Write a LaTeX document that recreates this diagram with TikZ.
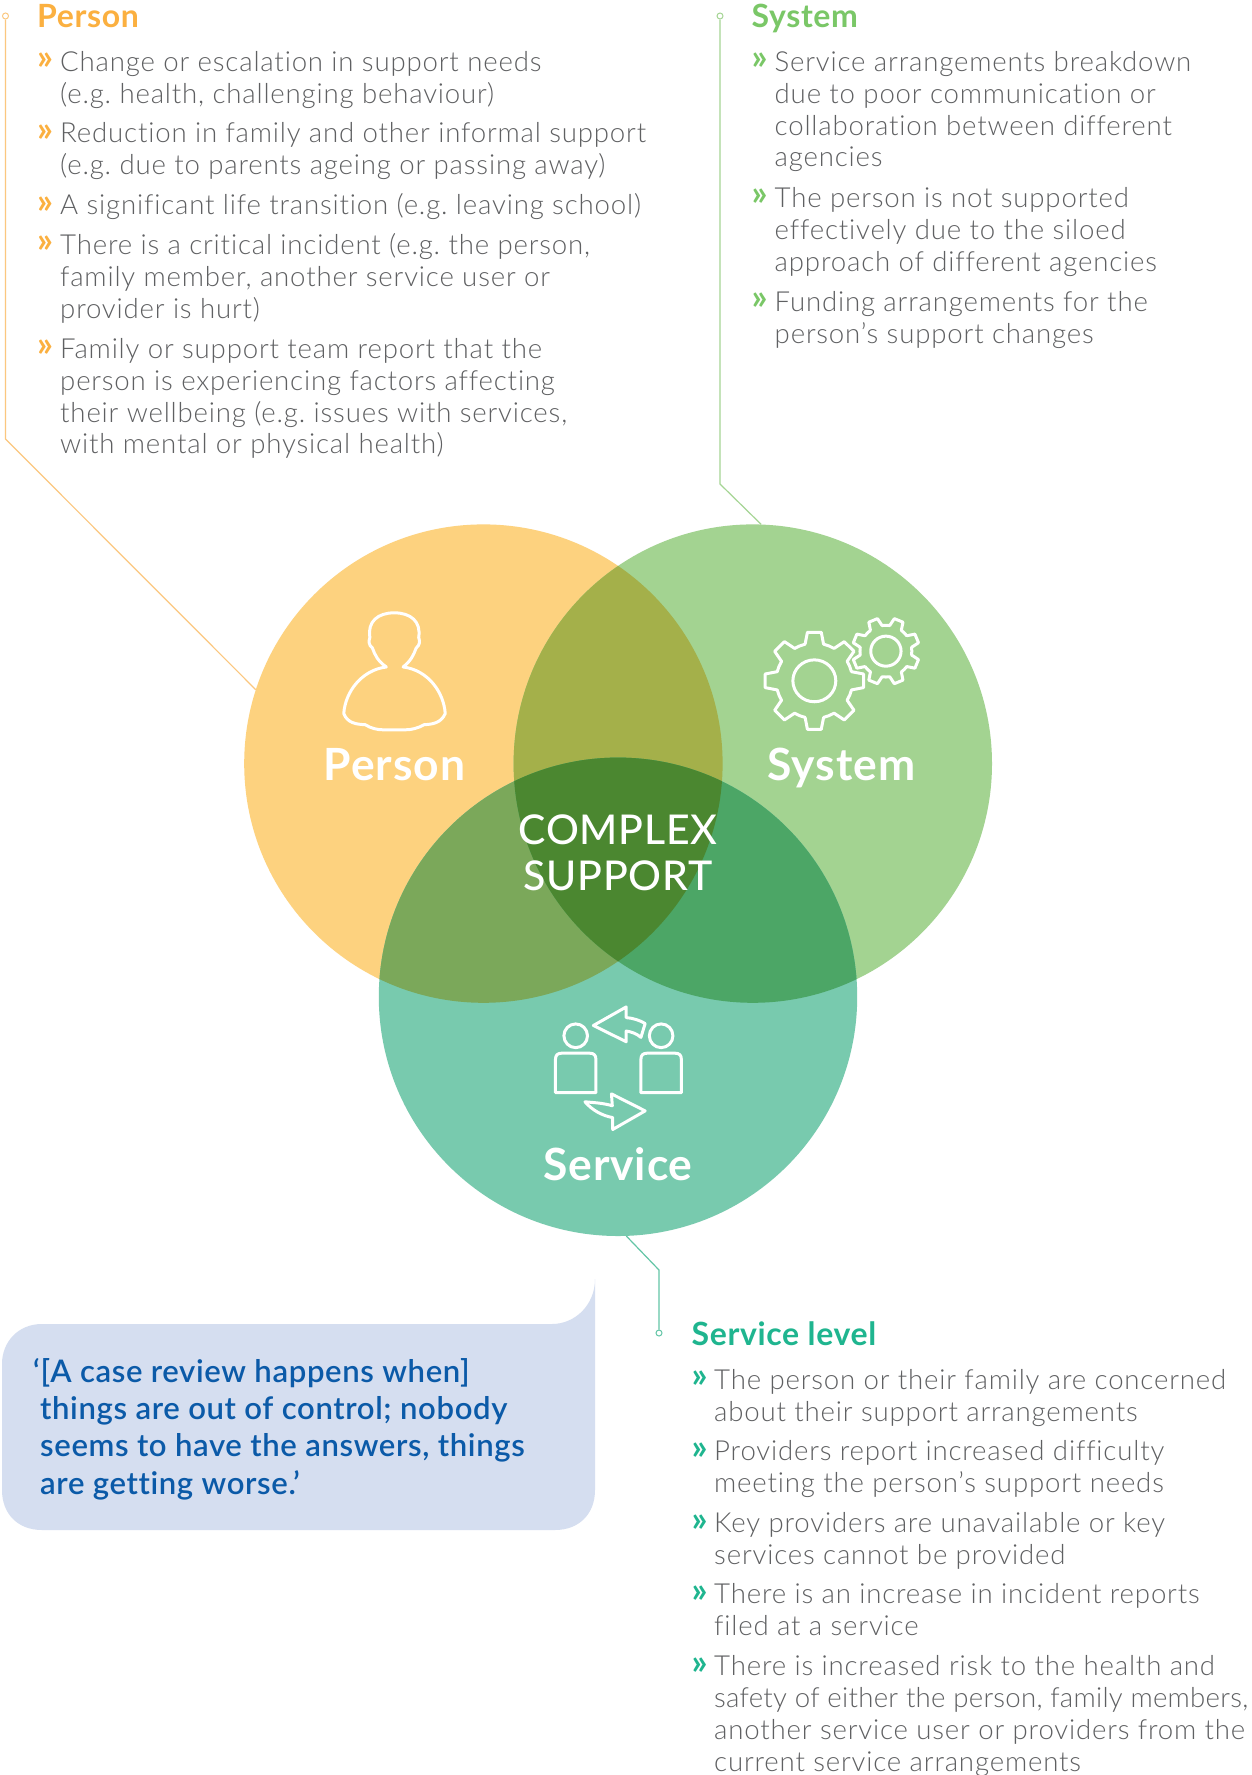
\documentclass[tikz,border=0pt]{standalone}
\usepackage{fontspec}
\setmainfont{Lato}[UprightFont=* Light,BoldFont=* Bold,LetterSpace=3,Ligatures=NoCommon]
\newfontfamily\headf{Lato}[UprightFont=* Bold,BoldFont=* Bold,LetterSpace=2,Ligatures=NoCommon]
\newfontfamily\medf{Lato}[UprightFont=* Medium,BoldFont=* Bold,LetterSpace=2,Ligatures=NoCommon]
\newfontfamily\semif{Lato}[UprightFont=* Semibold,BoldFont=* Bold,LetterSpace=2,Ligatures=NoCommon]
\definecolor{txtgrey}{HTML}{5F6062}
\definecolor{porange}{HTML}{FDD27F}
\definecolor{psys}{HTML}{A3D391}
\definecolor{pserv}{HTML}{78CAAE}
\definecolor{ovps}{HTML}{A4B04A}
\definecolor{ovpv}{HTML}{7BA85A}
\definecolor{ovsv}{HTML}{4CA666}
\definecolor{ovall}{HTML}{4B8730}
\definecolor{horange}{HTML}{FBB040}
\definecolor{hgreen}{HTML}{7AC767}
\definecolor{hteal}{HTML}{1FB58F}
\definecolor{lorange}{HTML}{FBC77F}
\definecolor{lgreen}{HTML}{A5D594}
\definecolor{lteal}{HTML}{63C5A6}
\definecolor{quotebg}{HTML}{D5DEF0}
\definecolor{quotetx}{HTML}{0B5AA8}
\tikzset{
  x=1pt,y=-1pt,
  itemtxt/.style={anchor=north west,inner sep=0pt,align=left,text=txtgrey,font=\frenchspacing\fontsize{27.6}{31.8}\selectfont},
  heading/.style={anchor=base west,inner sep=0pt,font=\headf\fontsize{32}{36}\selectfont},
  bul/.style={anchor=west,inner sep=0pt,font=\headf\fontsize{35}{36}\selectfont},
  quotetxt/.style={anchor=north west,inner sep=0pt,align=left,text=quotetx,font=\semif\fontsize{31.1}{37.3}\selectfont},
  blobc/.style={circle,inner sep=0pt,minimum size=478.4pt,draw=none},
  biglab/.style={anchor=base,inner sep=0pt,text=white,font=\headf\fontsize{44.4}{46}\selectfont},
  midlab/.style={inner sep=0pt,text=white,align=center,font=\medf\fontsize{41}{45.5}\selectfont},
  ring/.style={circle,inner sep=0pt,minimum size=6pt,fill=white,line width=1pt},
  conn/.style={line width=1.2pt},
  icon/.style={draw=white,line width=3pt,line join=round,line cap=round},
}
% name, bullet x, text x, first-line baseline y, colour, text
\newcommand{\bitem}[6]{%
  \node[bul,text=#5] (b#1) at (#2,#4-8.5) {»};
  \node[itemtxt] (t#1) at (#3,#4-21) {\strut #6};
}
\newcommand{\gearpath}{%
  (-14:.77) \foreach \a in {0,45,...,315} {
    -- (\a-14:.77) -- (\a-8:1) -- (\a+8:1) -- (\a+14:.77)
    arc[start angle=\a+14,end angle=\a+31,radius=.77]
  } -- cycle}
\begin{document}
\begin{tikzpicture}
\useasboundingbox (0,0) rectangle (1251,1775);
\fill[white] (0,0) rectangle (1251,1775);
% circles
\node[blobc,fill=porange] (person) at (483.4,763.6) {};
\node[blobc,fill=psys] (system) at (752.8,763.6) {};
\node[blobc,fill=pserv] (service) at (618,996.8) {};
\begin{scope}
  \clip (483.4,763.6) circle[radius=239.2];
  \fill[ovps] (752.8,763.6) circle[radius=239.2];
  \fill[ovpv] (618,996.8) circle[radius=239.2];
\end{scope}
\begin{scope}
  \clip (752.8,763.6) circle[radius=239.2];
  \fill[ovsv] (618,996.8) circle[radius=239.2];
  \clip (618,996.8) circle[radius=239.2];
  \fill[ovall] (483.4,763.6) circle[radius=239.2];
\end{scope}
% connectors
\node[ring,draw=lorange] (dp) at (5.5,16) {};
\coordinate (kp) at (5.5,439);
\draw[conn,lorange] (dp) -- (kp) -- (person.162.3);
\node[ring,draw=lgreen] (ds) at (720,16) {};
\coordinate (ks) at (720,484);
\draw[conn,lgreen] (ds) -- (ks) -- (system.88.7);
\node[ring,draw=lteal] (dv) at (659,1333) {};
\coordinate (kv) at (659,1270);
\draw[conn,lteal] (service.272.5) -- (kv) -- (dv);
% person block
\node[heading,text=horange] (hp) at (37,27.5) {Person};
\bitem{p1}{37}{60}{70}{horange}{Change or escalation in support needs\\(e.g. health, challenging behaviour)}
\bitem{p2}{37}{60}{141.5}{horange}{Reduction in family and other informal support\\(e.g. due to parents ageing or passing away)}
\bitem{p3}{37}{60}{213.5}{horange}{A significant life transition (e.g. leaving school)}
\bitem{p4}{37}{60}{253}{horange}{There is a critical incident (e.g. the person,\\family member, another service user or\\provider is hurt)}
\bitem{p5}{37}{60}{357}{horange}{Family or support team report that the\\person is experiencing factors affecting\\their wellbeing (e.g. issues with services,\\with mental or physical health)}
% system block
\node[heading,text=hgreen] (hs) at (751.5,27.5) {System};
\bitem{s1}{751.5}{774.5}{70}{hgreen}{Service arrangements breakdown\\due to poor communication or\\collaboration between different\\agencies}
\bitem{s2}{751.5}{774.5}{206}{hgreen}{The person is not supported\\effectively due to the siloed\\approach of different agencies}
\bitem{s3}{751.5}{774.5}{310}{hgreen}{Funding arrangements for the\\person’s support changes}
% service block
\node[heading,text=hteal] (hv) at (691.5,1345) {Service level};
\bitem{v1}{691.5}{714}{1388}{hteal}{The person or their family are concerned\\about their support arrangements}
\bitem{v2}{691.5}{714}{1459.5}{hteal}{Providers report increased difficulty\\meeting the person’s support needs}
\bitem{v3}{691.5}{714}{1531.5}{hteal}{Key providers are unavailable or key\\services cannot be provided}
\bitem{v4}{691.5}{714}{1602.5}{hteal}{There is an increase in incident reports\\filed at a service}
\bitem{v5}{691.5}{714}{1674.5}{hteal}{There is increased risk to the health and\\{\addfontfeature{LetterSpace=1.0}safety of either the person, family members,}\\another service user or providers from the\\current service arrangements}
% labels
\node[biglab] (lp) at (394.5,780) {Person};
\node[biglab] (ls) at (841.5,780) {System};
\node[biglab] (lv) at (618,1180) {Service};
\node[midlab] (lc) at (618,853) {COMPLEX\\SUPPORT};
% person icon (coordinates measured in a crop of the figure)
\begin{scope}[shift={(300,580)},xscale=0.4209,yscale=0.3953]
  \draw[icon] (205,220) .. controls (185,205) and (178,190) .. (172,172)
    .. controls (163,165) and (163,155) .. (166,145)
    .. controls (160,105) and (185,83) .. (224,83)
    .. controls (263,83) and (288,105) .. (282,145)
    .. controls (285,155) and (285,165) .. (276,172)
    .. controls (270,190) and (263,205) .. (245,220)
    .. controls (305,228) and (342,285) .. (345,338)
    .. controls (335,362) and (315,365) .. (295,366)
    .. controls (280,375) and (265,379) .. (250,379)
    -- (198,379)
    .. controls (183,379) and (168,375) .. (155,366)
    .. controls (133,365) and (113,362) .. (104,338)
    .. controls (107,285) and (145,228) .. (205,220) -- cycle;
  % gears
  \begin{scope}[shift={(1222,255)},xscale=118,yscale=124]
    \draw[icon,line width=3pt] \gearpath;
  \end{scope}
  \draw[icon] (1222,255) ellipse[x radius=51,y radius=53];
  \begin{scope}[shift={(1392,180)},xscale=80,yscale=85,rotate=22.5]
    \draw[icon] \gearpath;
  \end{scope}
  \draw[icon] (1392,180) ellipse[x radius=36,y radius=38];
  % service icon
  \draw[icon] (655,1153) ellipse[x radius=28,y radius=30];
  \draw[icon] (858,1153) ellipse[x radius=28,y radius=30];
  \draw[icon] (607,1297) -- (607,1212) .. controls (607,1202) and (612,1197) .. (622,1197) -- (688,1197) .. controls (698,1197) and (703,1202) .. (703,1212) -- (703,1297) -- cycle;
  \draw[icon] (810,1297) -- (810,1212) .. controls (810,1202) and (815,1197) .. (825,1197) -- (891,1197) .. controls (901,1197) and (906,1202) .. (906,1212) -- (906,1297) -- cycle;
  \draw[icon] (697,1127) -- (775,1080) -- (775,1107) .. controls (790,1108) and (808,1114) .. (820,1122) -- (810,1157) .. controls (800,1148) and (788,1143) .. (775,1141) -- (775,1168) -- cycle;
  \draw[icon] (820,1343) -- (743,1390) -- (743,1360) .. controls (718,1355) and (695,1342) .. (677,1320) .. controls (697,1322) and (720,1323) .. (742,1330) -- (740,1300) -- cycle;
\end{scope}
% quote
\fill[quotebg] (595,1279) .. controls (595,1305) and (575,1324) .. (552,1324)
  -- (42,1324) .. controls (18,1324) and (2,1342) .. (2,1364)
  -- (2,1490) .. controls (2,1514) and (18,1530) .. (42,1530)
  -- (555,1530) .. controls (579,1530) and (595,1514) .. (595,1490) -- cycle;
\node[quotetxt] (q) at (33,1356) {\strut ‘[A case review happens when]\\\hspace*{7pt}things are out of control; nobody\\\hspace*{7pt}seems to have the answers, things\\\hspace*{7pt}are getting worse.’};
\end{tikzpicture}
\end{document}
